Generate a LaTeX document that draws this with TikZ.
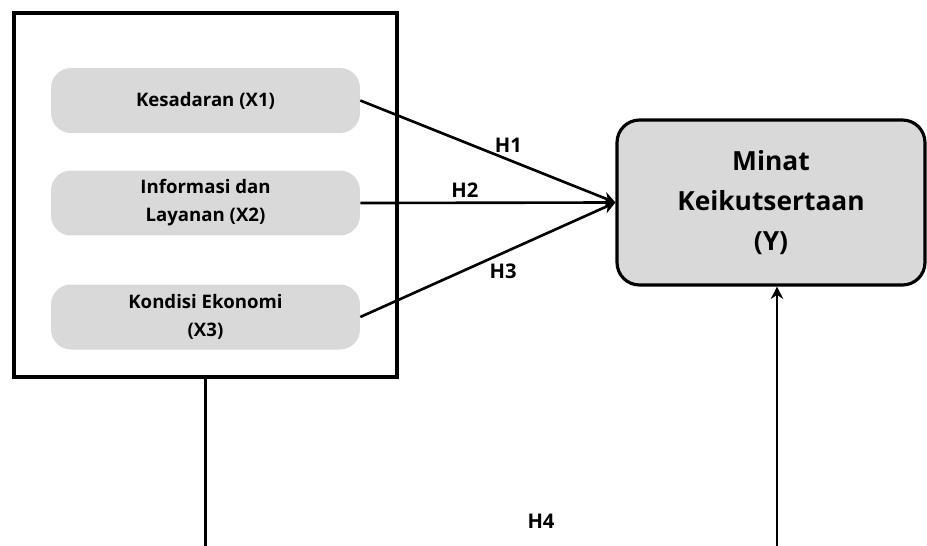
\documentclass[tikz,border=0pt]{standalone}
\usepackage{fontspec}
\setmainfont{Open Sans}
\usetikzlibrary{arrows.meta}

\begin{document}
\begin{tikzpicture}[
    x=0.02cm, y=-0.02cm,
    var/.style={rectangle, rounded corners=0.4cm, fill=black!15, minimum width=6.18cm, minimum height=1.3cm, align=center, font=\bfseries\fontsize{10.6}{16}\selectfont},
    target/.style={rectangle, rounded corners=0.45cm, draw, line width=1.8pt, fill=black!15, minimum width=6.16cm, minimum height=3.3cm, align=center, font=\bfseries\fontsize{15}{23}\selectfont},
    hyp/.style={font=\bfseries\fontsize{11.5}{12}\selectfont},
    link/.style={-{Stealth[length=7pt, width=7pt]}, line width=1.5pt}
]
    \useasboundingbox (0,0) rectangle (927,545);
    \clip (0,0) rectangle (927,545);

    % Outer frame
    \node[rectangle, draw, line width=1.8pt, minimum width=7.66cm, minimum height=7.28cm] (group) at (205.5,195) {};

    % Variables
    \node[var] (x1) at (205.5,100.5) {Kesadaran (X1)};
    \node[var] (x2) at (205.5,203) {Informasi dan\\Layanan (X2)};
    \node[var] (x3) at (205.5,317) {Kondisi Ekonomi\\(X3)};

    \node[target] (y) at (771,202.5) {Minat\\Keikutsertaan\\(Y)};

    % Hypotheses
    \draw[link] (x1.east) -- node[hyp, pos=0.58, above=0pt] {H1} (y.west);
    \draw[link] (x2.east) -- node[hyp, pos=0.41, above=-1pt] {H2} (y.west);
    \draw[link] (x3.east) -- node[hyp, pos=0.56, below=2pt] {H3} (y.west);

    \coordinate (turn) at (205.5,548);
    \draw[link] (group.south) -- (turn) -| ([xshift=0.12cm]y.south);
    \node[hyp] (h4) at (541,521) {H4};

\end{tikzpicture}
\end{document}
